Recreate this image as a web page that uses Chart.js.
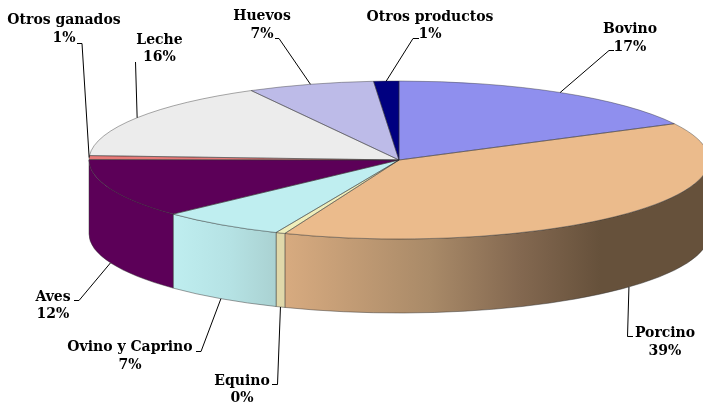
<!DOCTYPE html>
<html>
<head>
<meta charset="utf-8">
<style>
    html, body { margin: 0; padding: 0; background: #fff; overflow: hidden; }
    canvas { display: block; }
</style>
<script src="https://cdn.jsdelivr.net/npm/chart.js@4/dist/chart.umd.js"></script>
</head>
<body>
<canvas id="pie3d" width="703" height="405"></canvas>
<script>
// Datos
const categories = ['Bovino', 'Porcino', 'Equino', 'Ovino y Caprino', 'Aves', 'Otros ganados', 'Leche', 'Huevos', 'Otros productos'];
const shares = [17.4, 38.6, 0.49, 6.5, 12.1, 0.8, 16.2, 6.6, 1.31];
const shareLabels = ['17%', '39%', '0%', '7%', '12%', '1%', '16%', '7%', '1%'];
const topColors = ['#8f8fee', '#ebbb8c', '#efeebb', '#bfeef0', '#5c0058', '#e87a78', '#ececec', '#bdbbe8', '#000080'];

// Costado del pastel: paradas [x, color] del degradado horizontal
const wallStops = [
    [],
    [[283, '#d8ab80'], [430, '#a98a68'], [520, '#836850'], [600, '#66513b'], [703, '#66513b']],
    [[275, '#e0d8aa'], [283, '#e0d8aa']],
    [[172, '#bfeef0'], [230, '#b5e2e4'], [275, '#aad2d2']],
    [[89, '#5c0058'], [172, '#5c0058']],
    [], [], [], []
];

// Geometría de la elipse
const pie = { cx: 399, cy: 160, rx: 310, ry: 79, depth: 74 };

// Posición de cada etiqueta: x centrada, líneas base y quiebre de la guía
const labelSpots = [
    { x: 630, y: [33, 51], leader: [[609, 50.5], [614, 50.5]] },
    { x: 665, y: [337, 355], leader: [[627.5, 336.5], [633, 336.5]] },
    { x: 242, y: [385, 402], leader: [[277.5, 384.5], [272, 384.5]] },
    { x: 130, y: [351, 369], leader: [[201, 351.5], [196, 351.5]] },
    { x: 53, y: [301, 318], leader: [[79, 300.5], [74, 300.5]] },
    { x: 64, y: [24, 42], leader: [[82, 43.5], [77, 43.5]] },
    { x: 159.5, y: [44, 61], leader: [[135.5, 62]] },
    { x: 262, y: [20, 38], leader: [[279, 38.5], [275, 38.5]] },
    { x: 430, y: [21, 38], leader: [[413, 38.5], [419, 38.5]] }
];

const edgeColor = 'rgba(50, 50, 50, 0.6)';
const labelFont = 'bold 14px "DejaVu Serif"';

// Función para dibujar el costado de un sector, solo la mitad delantera
const drawWall = (ctx, arc, stops) => {
    const from = Math.max(arc.startAngle, 0);
    const to = Math.min(arc.endAngle, Math.PI);
    if (to <= from || !stops.length) return;

    const x0 = stops[0][0];
    const x1 = stops[stops.length - 1][0];
    const gradient = ctx.createLinearGradient(x0, 0, x1, 0);
    stops.forEach(s => gradient.addColorStop((s[0] - x0) / (x1 - x0), s[1]));

    ctx.beginPath();
    ctx.ellipse(pie.cx, pie.cy, pie.rx, pie.ry, 0, from, to);
    ctx.ellipse(pie.cx, pie.cy + pie.depth, pie.rx, pie.ry, 0, to, from, true);
    ctx.closePath();
    ctx.fillStyle = gradient;
    ctx.fill();
    ctx.strokeStyle = edgeColor;
    ctx.lineWidth = 0.8;
    ctx.stroke();
};

const pie3dPlugin = {
    id: 'pie3d',
    beforeDatasetsDraw(chart) {
        const ctx = chart.ctx;
        const arcs = chart.getDatasetMeta(0).data;
        arcs.forEach((arc, i) => drawWall(ctx, arc, wallStops[i]));

        // El pastel de Chart.js se aplana con una transformación
        const r = arcs[0].outerRadius;
        ctx.save();
        ctx.translate(pie.cx, pie.cy);
        ctx.scale(pie.rx / r, pie.ry / r);
        ctx.translate(-arcs[0].x, -arcs[0].y);
    },
    afterDatasetsDraw(chart) {
        const ctx = chart.ctx;
        ctx.restore();
        const arcs = chart.getDatasetMeta(0).data;

        // Bordes de los sectores
        ctx.strokeStyle = edgeColor;
        ctx.lineWidth = 0.7;
        arcs.forEach(arc => {
            ctx.beginPath();
            ctx.moveTo(pie.cx, pie.cy);
            ctx.ellipse(pie.cx, pie.cy, pie.rx, pie.ry, 0, arc.startAngle, arc.endAngle);
            ctx.closePath();
            ctx.stroke();
        });

        // Guías y etiquetas
        arcs.forEach((arc, i) => {
            const mid = (arc.startAngle + arc.endAngle) / 2;
            const front = Math.sin(mid) > 0.05;
            const ax = pie.cx + pie.rx * Math.cos(mid);
            const ay = pie.cy + pie.ry * Math.sin(mid) + (front ? pie.depth : 0);
            const spot = labelSpots[i];

            ctx.beginPath();
            ctx.moveTo(ax, ay);
            spot.leader.forEach(p => ctx.lineTo(p[0], p[1]));
            ctx.strokeStyle = '#000';
            ctx.lineWidth = 1;
            ctx.stroke();

            ctx.fillStyle = '#000';
            ctx.font = labelFont;
            ctx.textAlign = 'center';
            ctx.textBaseline = 'alphabetic';
            ctx.fillText(categories[i], spot.x, spot.y[0]);
            ctx.fillText(shareLabels[i], spot.x, spot.y[1]);
        });
    }
};

const pieChart = new Chart(document.getElementById('pie3d'), {
    type: 'pie',
    data: {
        labels: categories,
        datasets: [{
            data: shares,
            backgroundColor: topColors,
            borderWidth: 0,
            hoverBorderWidth: 0,
            clip: false
        }]
    },
    options: {
        responsive: false,
        animation: false,
        plugins: {
            legend: { display: false },
            tooltip: { enabled: false }
        }
    },
    plugins: [pie3dPlugin]
});
</script>
</body>
</html>
